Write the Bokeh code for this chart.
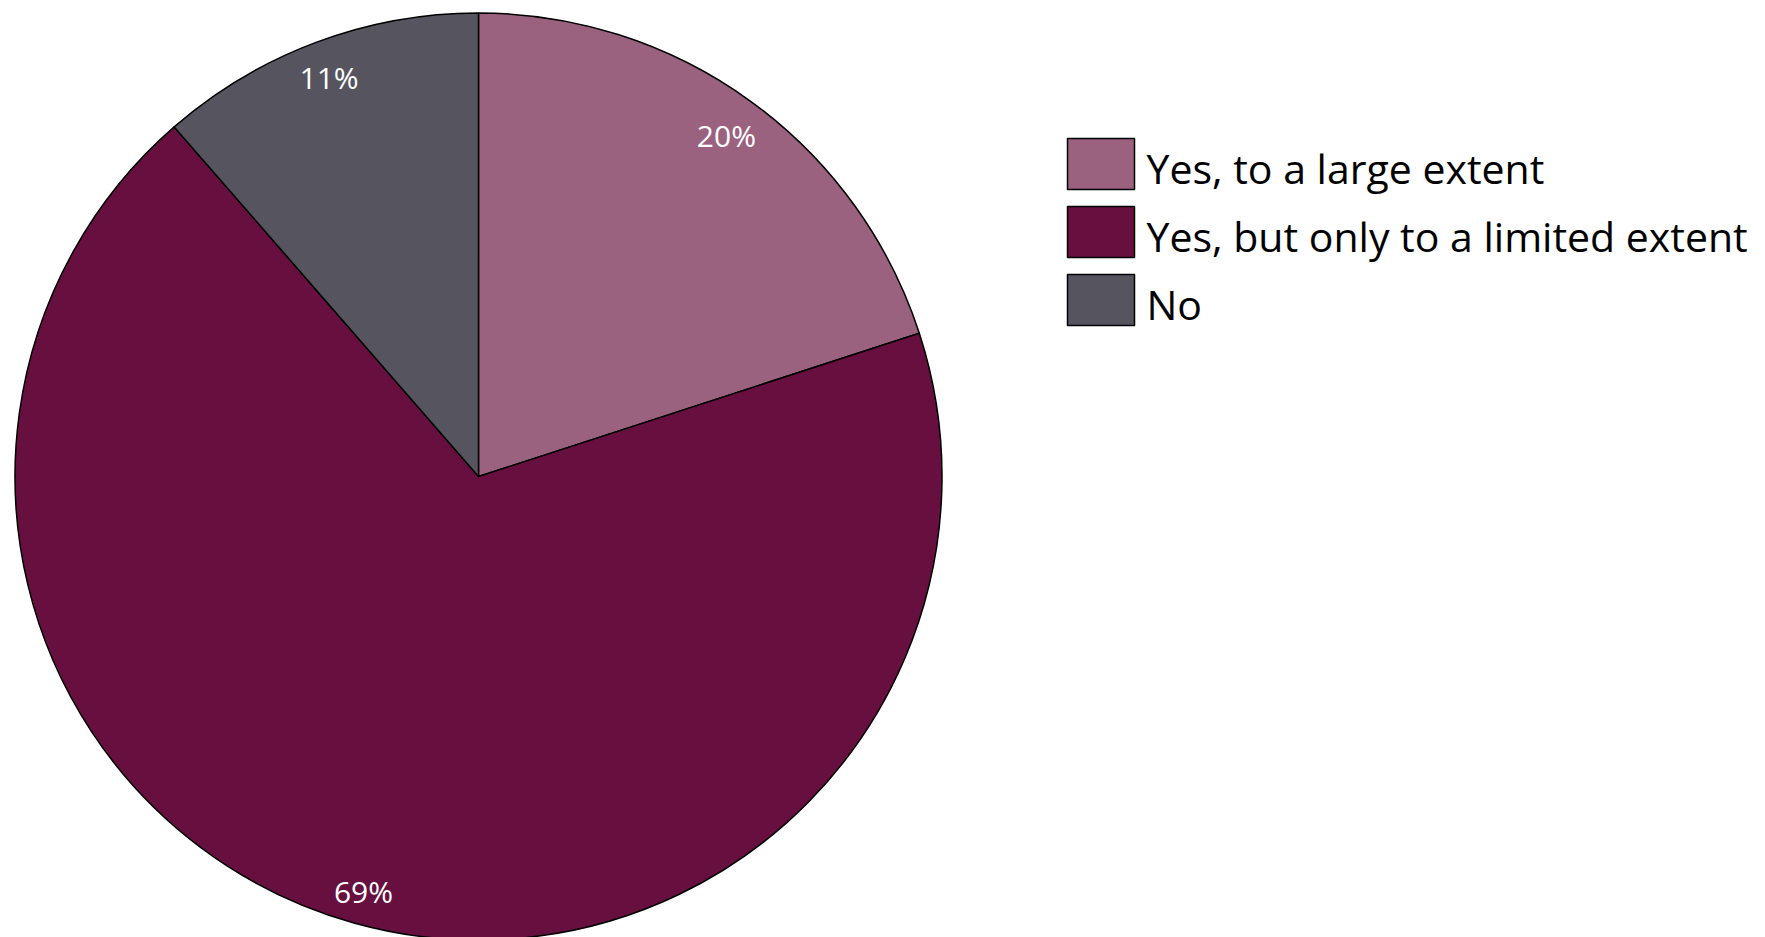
import math
from bokeh.plotting import figure
from bokeh.models import ColumnDataSource, Range1d
from bokeh.core.properties import value
from bokeh.embed import file_html
from bokeh.resources import INLINE

# ---- data ----
categories = ["Yes, to a large extent", "Yes, but only to a limited extent", "No"]
shares = [20.0, 68.6, 11.4]
labels = ["20%", "69%", "11%"]
colors = ["#9B627F", "#67103F", "#56555F"]

# ---- layout (pixel-like data units) ----
W, H = 1749, 937
CX, CY, R = 478, H - 476, 463.5
LABEL_R = [0.91, 0.93, 0.92]

p = figure(width=W, height=H, x_range=Range1d(0, W), y_range=Range1d(0, H),
           output_backend="svg", toolbar_location=None, min_border=0)
p.axis.visible = False
p.grid.visible = False
p.outline_line_color = None
p.background_fill_color = "white"

total = float(sum(shares))
starts, ends, lx, ly = [], [], [], []
cum = 0.0
for i, s in enumerate(shares):
    a0 = math.pi / 2 - 2 * math.pi * cum / total
    cum += s
    a1 = math.pi / 2 - 2 * math.pi * cum / total
    starts.append(a0)
    ends.append(a1)
    mid = (a0 + a1) / 2
    lx.append(CX + LABEL_R[i] * R * math.cos(mid))
    ly.append(CY + LABEL_R[i] * R * math.sin(mid))

src = ColumnDataSource(dict(start=starts, end=ends, color=colors, cat=categories,
                            lx=lx, ly=ly, label=labels))
p.wedge(x=CX, y=CY, radius=R, start_angle="start", end_angle="end",
        direction="clock", fill_color="color", line_color="black",
        line_width=1.5, source=src)
p.text(x="lx", y="ly", text="label", source=src, text_color="white",
       text_font=value("Open Sans"), text_font_size="30px",
       text_align="center", text_baseline="middle")

# ---- legend ----
n = len(categories)
box_x = [1100.5] * n
box_y = [H - (163.5 + 68 * i) for i in range(n)]
txt_x = [1146] * n
txt_y = [H - (167 + 68 * i) for i in range(n)]
lsrc = ColumnDataSource(dict(bx=box_x, by=box_y, tx=txt_x, ty=txt_y,
                             color=colors, cat=categories))
p.rect(x="bx", y="by", width=67, height=51, fill_color="color",
       line_color="black", line_width=1.5, source=lsrc)
p.text(x="tx", y="ty", text="cat", source=lsrc, text_color="black",
       text_font=value("Open Sans"), text_font_size="41px",
       text_align="left", text_baseline="middle")

open("out.html", "w").write(file_html(p, INLINE))
